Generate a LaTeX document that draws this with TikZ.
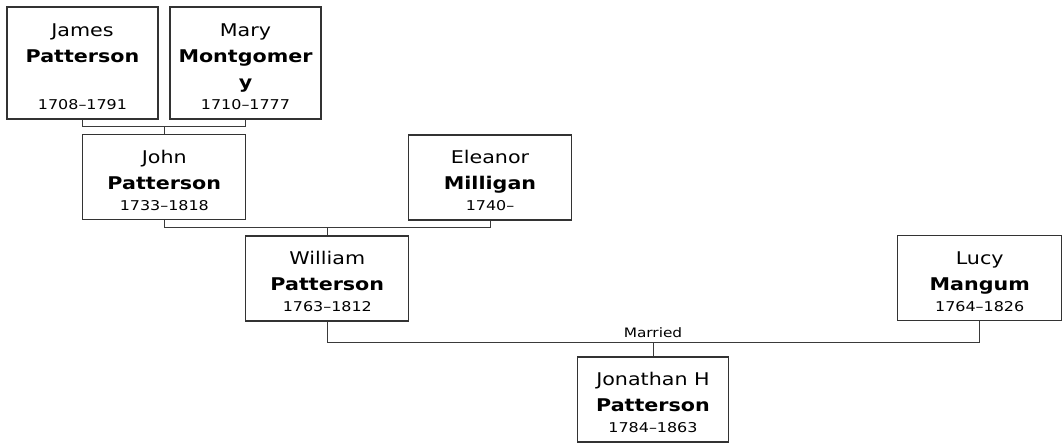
\documentclass[tikz,border=0pt]{standalone}
\usepackage{fontspec}
\setmainfont{DejaVu Sans}[FakeStretch=1.18]
\usetikzlibrary{positioning,calc}
\definecolor{boxgray}{HTML}{333333}
\definecolor{linegray}{HTML}{3A3A3A}
\newcommand{\given}[1]{\rule{0pt}{19.5pt}#1}
\newcommand{\family}[1]{{\bfseries #1}}
\newcommand{\lifespan}[1]{{\fontsize{13.5}{21}\selectfont #1}}
\tikzset{
  person/.style={draw=boxgray, line width=1.1pt, fill=white, minimum width=163pt,
                 minimum height=85pt, inner sep=0pt, align=center,
                 font=\fontsize{17.5}{26}\selectfont},
  narrow/.style={person, minimum width=151pt},
  tall/.style={narrow, minimum height=112pt},
  link/.style={draw=linegray, line width=1pt},
}
\begin{document}
\begin{tikzpicture}[x=1pt, y=-1pt]
  \useasboundingbox (0,0) rectangle (1062,445);

  % grandparents
  \node[tall] (james) at (82.5,63) {\given{James}\\\family{Patterson}\\\strut\\[-5pt]\lifespan{1708--1791}};
  \node[tall] (mary) at (245.5,63) {\given{Mary}\\\family{Montgomer}\\\family{y}\\[-5pt]\lifespan{1710--1777}};

  % parents
  \node[person] (john) at (164.3,177) {\given{John}\\\family{Patterson}\\[-5pt]\lifespan{1733--1818}};
  \node[person] (eleanor) at (490,177.5) {\given{Eleanor}\\\family{Milligan}\\[-5pt]\lifespan{1740--}};

  % couple
  \node[person] (william) at (327.3,278.5) {\given{William}\\\family{Patterson}\\[-5pt]\lifespan{1763--1812}};
  \node[person, minimum width=164pt] (lucy) at (979.7,278.3) {\given{Lucy}\\\family{Mangum}\\[-5pt]\lifespan{1764--1826}};

  % child
  \node[narrow] (jonathan) at (653,399.5) {\given{Jonathan H}\\\family{Patterson}\\[-5pt]\lifespan{1784--1863}};

  % connectors
  \path (james.south) ++(0,7) coordinate (bar1);
  \draw[link] (james.south) -- (bar1) -| (mary.south);
  \draw[link] (john.north) -- (john.north |- bar1);

  \path (john.south) ++(0,7.5) coordinate (bar2);
  \draw[link] (john.south) -- (bar2) -| (eleanor.south);
  \draw[link] (william.north) -- (william.north |- bar2);

  \path (william.south) ++(0,21) coordinate (bar3);
  \draw[link] (william.south) -- (bar3) -| (lucy.south);
  \draw[link] (jonathan.north) -- (jonathan.north |- bar3)
    node[above=1pt, font=\fontsize{13}{15}\selectfont] (married) {Married};
\end{tikzpicture}
\end{document}
